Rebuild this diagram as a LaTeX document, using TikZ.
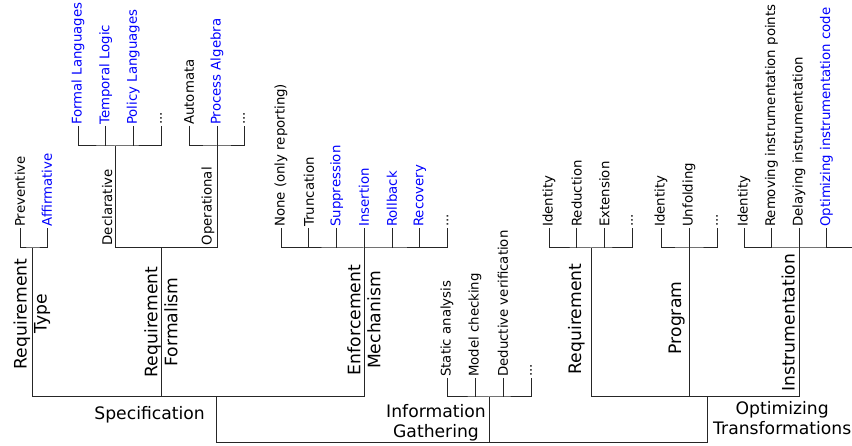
\documentclass[tikz,border=0pt]{standalone}
\usepackage{fontspec}
\setmainfont{DejaVu Sans}
\begin{document}
\begin{tikzpicture}[x=1pt,y=-1pt,
  ln/.style={line width=1pt, draw=black!85},
  leaf/.style={font=\fontsize{13.3}{16}\selectfont, rotate=90, anchor=west, inner sep=1pt},
  sublab/.style={font=\fontsize{13.3}{16}\selectfont, rotate=90, anchor=south west, inner sep=2.5pt},
  bl/.style={text=blue},
  big/.style={font=\fontsize{17.2}{20}\selectfont, inner sep=2pt},
]
\useasboundingbox (0,0) rectangle (852,446);

% ---------- root level ----------
\coordinate (spb) at (216,442); \coordinate (igb) at (489,442); \coordinate (otb) at (707,442);
\coordinate (sp) at (216,397);  \coordinate (ig) at (489,397);  \coordinate (ot) at (707,397);
\draw[ln] (sp) -- (spb) -- (otb) -- (ot);
\draw[ln] (ig) -- (igb);
\node[big, anchor=east] (splab) at (207,415) {Specification};
\node[big, anchor=east, align=center] (iglab) at (488,423) {Information\\Gathering};
\node[big, anchor=west, align=center] (otlab) at (711,418.5) {Optimizing\\Transformations};

% ---------- Specification ----------
\coordinate (rtb) at (32,397); \coordinate (rfb) at (161,397); \coordinate (emb) at (364,397);
\coordinate (rtt) at (32,248); \coordinate (rft) at (161,248); \coordinate (emt) at (364,248);
\draw[ln] (rtb) -- (emb);
\draw[ln] (rtb) -- (rtt);
\draw[ln] (rfb) -- (rft);
\draw[ln] (emb) -- (emt);
\node[big, rotate=90, align=center] (rtlab) at (32,314) {Requirement\\Type};
\node[big, rotate=90, align=center] (rflab) at (161,322) {Requirement\\Formalism};
\node[big, rotate=90, align=center] (emlab) at (364,320) {Enforcement\\Mechanism};

% Requirement Type leaves
\node[leaf] (rt1) at (20,228) {Preventive};
\node[leaf,bl] (rt2) at (47,228) {Affirmative};
\draw[ln] (rt1.west) |- (rtt) -| (rt2.west);

% Requirement Formalism
\coordinate (dcb) at (115,248); \coordinate (opb) at (217,248);
\coordinate (dct) at (115,146); \coordinate (opt) at (217,146);
\draw[ln] (dcb) -- (opb);
\draw[ln] (dcb) -- (dct);
\draw[ln] (opb) -- (opt);
\node[sublab] (dclab) at (dcb) {Declarative};
\node[sublab] (oplab) at (opb) {Operational};

\node[leaf,bl] (d1) at (78,126) {Formal Languages};
\node[leaf,bl] (d2) at (105.7,126) {Temporal Logic};
\node[leaf,bl] (d3) at (133.3,126) {Policy Languages};
\node[leaf] (d4) at (161,126) {...};
\draw[ln] (d1.west) |- (dct) -| (d4.west);
\draw[ln] (d2.west) -- (d2.west |- dct);
\draw[ln] (d3.west) -- (d3.west |- dct);

\node[leaf] (o1) at (189,126) {Automata};
\node[leaf,bl] (o2) at (217,126) {Process Algebra};
\node[leaf] (o3) at (244,126) {...};
\draw[ln] (o1.west) |- (opt) -| (o3.west);
\draw[ln] (o2.west) -- (opt);

% Enforcement Mechanism leaves
\node[leaf] (e1) at (281,228) {None (only reporting)};
\node[leaf] (e2) at (308.8,228) {Truncation};
\node[leaf,bl] (e3) at (336.6,228) {Suppression};
\node[leaf,bl] (e4) at (364,228) {Insertion};
\node[leaf,bl] (e5) at (392,228) {Rollback};
\node[leaf,bl] (e6) at (419.8,228) {Recovery};
\node[leaf] (e7) at (447.6,228) {...};
\draw[ln] (e1.west) |- (emt) -| (e7.west);
\foreach \i in {2,3,5,6} \draw[ln] (e\i.west) -- (e\i.west |- emt);
\draw[ln] (e4.west) -- (emt);

% ---------- Information Gathering ----------
\node[leaf] (g1) at (447,378) {Static analysis};
\node[leaf] (g2) at (475,378) {Model checking};
\node[leaf] (g3) at (503,378) {Deductive verification};
\node[leaf] (g4) at (531,378) {...};
\draw[ln] (g1.west) |- (ig) -| (g4.west);
\draw[ln] (g2.west) -- (g2.west |- ig);
\draw[ln] (g3.west) -- (g3.west |- ig);

% ---------- Optimizing Transformations ----------
\coordinate (orb) at (591,397); \coordinate (pgb) at (689,397); \coordinate (inb) at (799,397);
\coordinate (ort) at (591,248); \coordinate (pgt) at (689,248); \coordinate (intt) at (799,248);
\draw[ln] (orb) -- (inb);
\draw[ln] (orb) -- (ort);
\draw[ln] (pgb) -- (pgt);
\draw[ln] (inb) -- (intt);
\node[big, rotate=90, anchor=south] (orlab) at (587,319) {Requirement};
\node[big, rotate=90, anchor=south] (pglab) at (687,318) {Program};
\node[big, rotate=90, anchor=south west] (inlab) at (797,394) {Instrumentation};

\node[leaf] (r1) at (549,228) {Identity};
\node[leaf] (r2) at (576.7,228) {Reduction};
\node[leaf] (r3) at (604.3,228) {Extension};
\node[leaf] (r4) at (632,228) {...};
\draw[ln] (r1.west) |- (ort) -| (r4.west);
\draw[ln] (r2.west) -- (r2.west |- ort);
\draw[ln] (r3.west) -- (r3.west |- ort);

\node[leaf] (p1) at (661,228) {Identity};
\node[leaf] (p2) at (689,228) {Unfolding};
\node[leaf] (p3) at (717,228) {...};
\draw[ln] (p1.west) |- (pgt) -| (p3.west);
\draw[ln] (p2.west) -- (pgt);

\node[leaf] (i1) at (744,228) {Identity};
\node[leaf] (i2) at (771.5,228) {Removing instrumentation points};
\node[leaf] (i3) at (799,228) {Delaying instrumentation};
\node[leaf,bl] (i4) at (826.5,228) {Optimizing instrumentation code};
\coordinate (iend) at (853,248);
\draw[ln] (i1.west) |- (intt) -- (iend);
\draw[ln] (i2.west) -- (i2.west |- intt);
\draw[ln] (i3.west) -- (intt);
\draw[ln] (i4.west) -- (i4.west |- intt);
\end{tikzpicture}
\end{document}
